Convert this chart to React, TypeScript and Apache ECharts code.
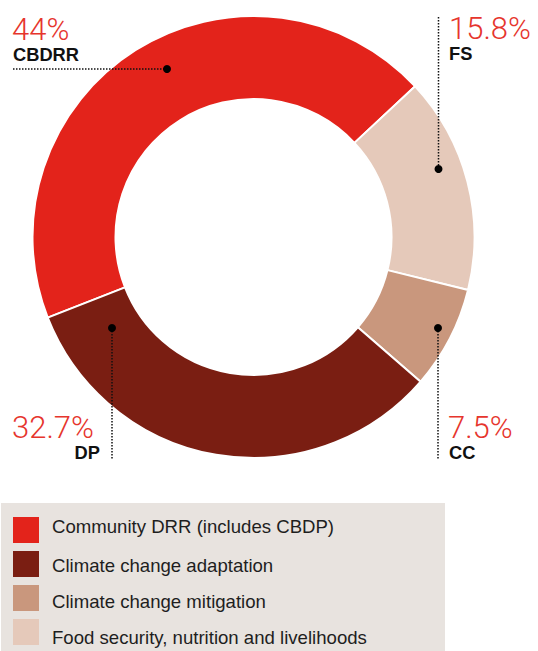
import React, { useEffect, useRef } from "react";
import * as echarts from "echarts";

// Data (clockwise order around the ring starting with CBDRR)
const sliceNames = [
  "Community DRR (includes CBDP)",
  "Food security, nutrition and livelihoods",
  "Climate change mitigation",
  "Climate change adaptation",
];
const sliceShort = ["CBDRR", "FS", "CC", "DP"];
const sliceValues = [44, 15.8, 7.5, 32.7];
const sliceColors = ["#e3231b", "#e5c9ba", "#c9977d", "#7a1e12"];
const percentLabels = ["44%", "15.8%", "7.5%", "32.7%"];

// Legend order
const legendOrder = [
  "Community DRR (includes CBDP)",
  "Climate change adaptation",
  "Climate change mitigation",
  "Food security, nutrition and livelihoods",
];

export default function App() {
  const ref = useRef<HTMLDivElement>(null);
  useEffect(() => {
    document.body.style.margin = "0";
    if (!ref.current) return;
    const chart = echarts.init(ref.current, undefined, { renderer: "svg" });

    const pctStyle = {
      fontFamily: "Roboto, 'Liberation Sans', Arial, sans-serif",
      fontWeight: 300,
      fontSize: 31,
      lineHeight: 22,
      fill: "#e6352d",
    };
    const codeStyle = {
      fontFamily: "'Liberation Sans', Arial, sans-serif",
      fontWeight: "bold",
      fontSize: 18.3,
      lineHeight: 14,
      fill: "#111",
    };
    const dotted = { stroke: "#111", lineWidth: 1.5, lineDash: [1.5, 1.5] };

    const annot: any[] = [
      { px: 12, py: 29, cx: 13, cy: 54, calign: "left", l: [13, 69, 167, 69], d: [167, 69] },
      { px: 449, py: 28.5, cx: 449, cy: 53.5, calign: "left", l: [438.5, 17, 438.5, 169], d: [438.5, 169] },
      { px: 448, py: 427.5, cx: 449, cy: 452, calign: "left", l: [438, 328, 438, 459], d: [438, 328] },
      { px: 12, py: 427.5, cx: 100, cy: 452, calign: "right", l: [112, 328, 112, 459], d: [112, 328] },
    ];

    const graphics: any[] = [
      {
        type: "rect",
        shape: { x: 1, y: 503, width: 444, height: 148 },
        style: { fill: "#e8e3df" },
        z: 1,
      },
    ];
    const textCenters = [526.5, 565, 601.5, 637.5];
    legendOrder.forEach((name, i) => {
      const idx = sliceNames.indexOf(name);
      graphics.push({
        type: "rect",
        shape: { x: 13, y: 517 + i * 34, width: 26, height: 26 },
        style: { fill: sliceColors[idx] },
        z: 2,
      });
      graphics.push({
        type: "text",
        x: 52,
        y: textCenters[i],
        style: {
          text: name,
          fontFamily: "'Liberation Sans', Arial, sans-serif",
          fontSize: 18.6,
          fill: "#1e1e1e",
          verticalAlign: "middle",
          align: "left",
        },
        z: 2,
      });
    });

    annot.forEach((a, i) => {
      graphics.push({
        type: "line",
        shape: { x1: a.l[0], y1: a.l[1], x2: a.l[2], y2: a.l[3] },
        style: dotted,
        z: 10,
      });
      graphics.push({
        type: "circle",
        shape: { cx: a.d[0], cy: a.d[1], r: 4 },
        style: { fill: "#000" },
        z: 11,
      });
      graphics.push({
        type: "text",
        x: a.px,
        y: a.py,
        style: { ...pctStyle, text: percentLabels[i], verticalAlign: "middle", align: "left" },
        z: 10,
      });
      graphics.push({
        type: "text",
        x: a.cx,
        y: a.cy,
        style: { ...codeStyle, text: sliceShort[i], verticalAlign: "middle", align: a.calign },
        z: 10,
      });
    });

    chart.setOption({
      animation: false,
      series: [
        {
          type: "pie",
          center: [253.5, 237],
          radius: [138, 221],
          startAngle: 201.4,
          clockwise: true,
          silent: true,
          label: { show: false },
          labelLine: { show: false },
          itemStyle: { borderColor: "#ffffff", borderWidth: 2 },
          data: sliceNames.map((n, i) => ({
            name: n,
            value: sliceValues[i],
            itemStyle: { color: sliceColors[i] },
          })),
        },
      ],
      graphic: graphics,
    });
    return () => chart.dispose();
  }, []);
  return <div ref={ref} style={{ width: 538, height: 651 }} />;
}
